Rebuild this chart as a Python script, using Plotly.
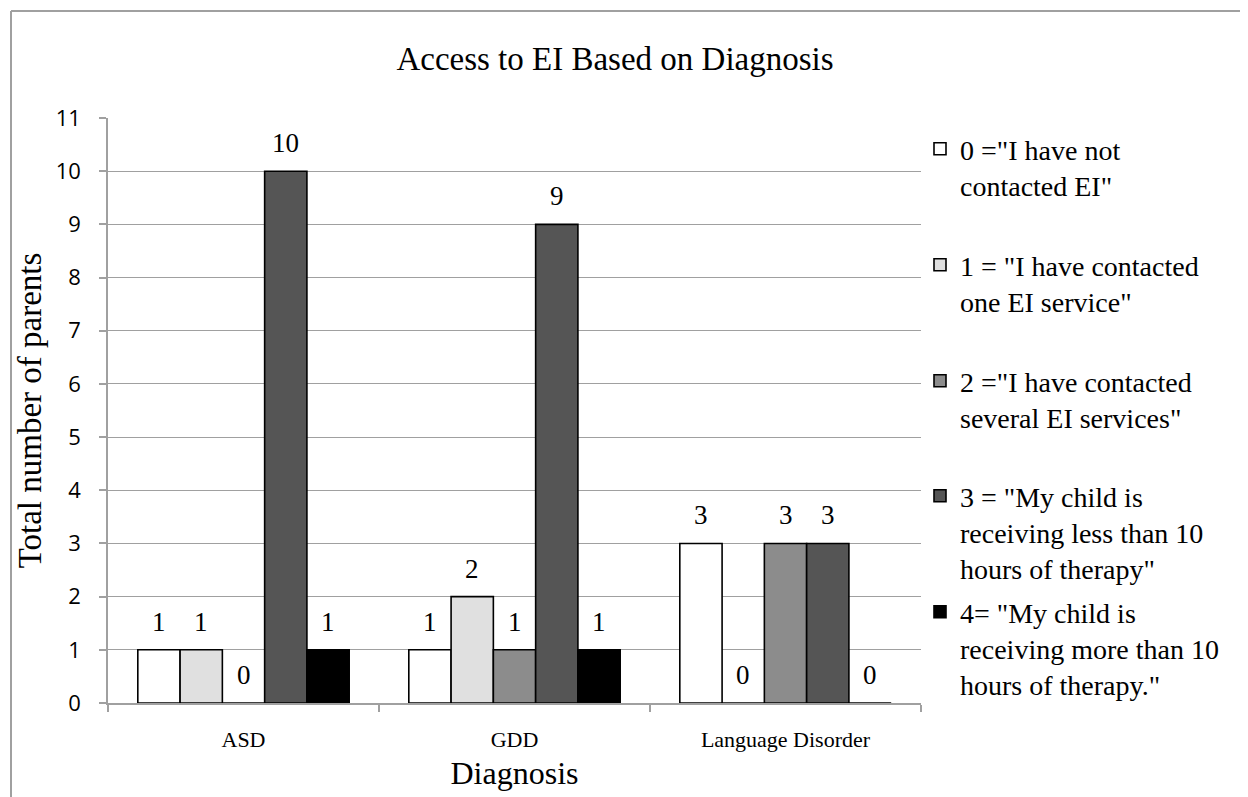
import plotly.graph_objects as go

categories = ["ASD", "GDD", "Language Disorder"]
series_names = [
    '0 ="I have not<br>contacted EI"',
    '1 = "I have contacted<br>one EI service"',
    '2 ="I have contacted<br>several EI services"',
    '3 = "My child is<br>receiving less than 10<br>hours of therapy"',
    '4= "My child is<br>receiving more than 10<br>hours of therapy."',
]
values = [
    [1, 1, 3],
    [1, 2, 0],
    [0, 1, 3],
    [10, 9, 3],
    [1, 1, 0],
]
colors = ["#ffffff", "#e0e0e0", "#8c8c8c", "#555555", "#000000"]
yticks = list(range(0, 12))

SERIF = "Liberation Serif"
SANS = "Open Sans"

# page has an 8px body margin; figure sized to fit the window exactly
OFF = 8
W, H = 1248 - OFF, 797 - OFF
L, T, B = 100, 110, 94
PW = 813
R = W - L - PW
PH = H - T - B
BARGAP = 0.22
N = len(series_names)

sx = lambda px: (px - OFF - L) / PW
sy = lambda py: (H - B - (py - OFF)) / PH

fig = go.Figure()
for k, (name, vals, col) in enumerate(zip(series_names, values, colors)):
    fig.add_trace(go.Bar(
        x=categories, y=vals, name=name,
        marker=dict(color=col, line=dict(color="#000000", width=1.6)),
        legend="legend" if k == 0 else f"legend{k + 1}",
        hoverinfo="x+y",
    ))

# value labels above each bar (positions from the grouped-bar geometry)
bw = (1 - BARGAP) / N
annotations = []
for j, vals in enumerate(values):
    for i, v in enumerate(vals):
        annotations.append(dict(
            x=i + (j - (N - 1) / 2) * bw, y=v, xref="x", yref="y",
            text=str(v), showarrow=False, yanchor="middle", yshift=28,
            font=dict(family=SERIF, size=27, color="#000000"),
        ))

border = dict(color="#a0a0a0", width=2)
shapes = [
    dict(type="line", xref="paper", yref="paper",
         x0=sx(11), y0=sy(11), x1=sx(1260), y1=sy(11), line=border),
    dict(type="line", xref="paper", yref="paper",
         x0=sx(11), y0=sy(11), x1=sx(11), y1=sy(810), line=border),
]

legend_line_centers = [151, 267, 383, 498, 614]
legends = {}
for k, yc in enumerate(legend_line_centers):
    key = "legend" if k == 0 else f"legend{k + 1}"
    legends[key] = dict(
        x=sx(920), y=sy(yc - 27), xanchor="left", yanchor="top",
        font=dict(family=SERIF, size=28, color="#000000"),
        valign="top", itemwidth=30, bgcolor="rgba(0,0,0,0)",
    )

fig.update_layout(
    width=W, height=H,
    margin=dict(l=L, r=R, t=T, b=B, autoexpand=False),
    paper_bgcolor="#ffffff", plot_bgcolor="#ffffff",
    font=dict(family=SERIF, color="#000000"),
    barmode="group", bargap=BARGAP, bargroupgap=0,
    title=dict(text="Access to EI Based on Diagnosis", xref="container", yref="container",
               x=(615 - OFF) / W, xanchor="center", y=1 - (58 - OFF) / H, yanchor="middle",
               font=dict(family=SERIF, size=33, color="#000000")),
    xaxis=dict(
        title=dict(text="Diagnosis", font=dict(family=SERIF, size=32, color="#000000"), standoff=10),
        tickfont=dict(family=SERIF, size=22, color="#000000"),
        showline=True, linecolor="#a0a0a0", linewidth=1.5,
        tickson="boundaries", ticks="outside", ticklen=7, tickcolor="#a0a0a0", tickwidth=1.5,
        ticklabelstandoff=16,
        showgrid=False,
    ),
    yaxis=dict(
        title=dict(text="Total number of parents", font=dict(family=SERIF, size=33, color="#000000"), standoff=4),
        tickfont=dict(family=SANS, size=22, color="#000000"),
        range=[0, 11], tickvals=yticks,
        showline=True, linecolor="#a0a0a0", linewidth=1.5,
        ticks="outside", ticklen=7, tickcolor="#a0a0a0", tickwidth=1.5,
        ticklabelstandoff=14,
        showgrid=True, gridcolor="#a0a0a0", gridwidth=1.3,
        zeroline=False,
    ),
    annotations=annotations,
    shapes=shapes,
    showlegend=True,
    **legends,
)

fig.write_html("out.html")
